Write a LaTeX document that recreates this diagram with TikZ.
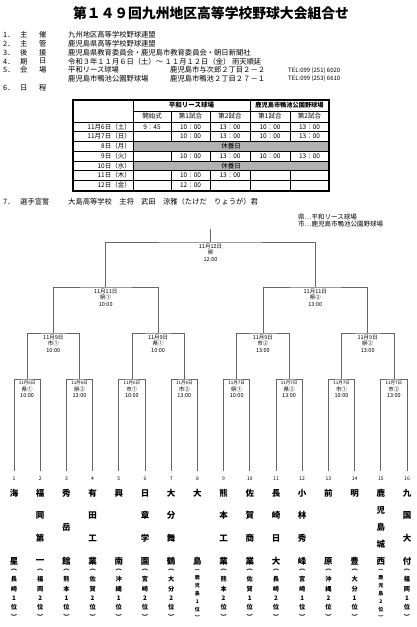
\documentclass[tikz,border=0pt]{standalone}
\usepackage{fontspec}
\setmainfont{Noto Sans CJK JP}
\usetikzlibrary{calc}

\newcommand{\fsz}[1]{\fontsize{#1}{#1}\selectfont}

\tikzset{
  bracket/.style={draw=black!60, line width=0.8pt},
  grid/.style={draw=black, line width=0.4pt},
  info/.style={anchor=west, inner sep=0pt, font=\fsz{7.3}},
  cell/.style={inner sep=0pt, font=\fsz{6.5}},
  mlab/.style={anchor=north, inner sep=0pt, align=center, font=\fontsize{5.5}{6.8}\selectfont},
  numlab/.style={inner sep=0pt, font=\fsz{5}},
  tname/.style={inner sep=0pt, font=\bfseries\fsz{8.5}},
}

\begin{document}
\begin{tikzpicture}[x=1pt, y=-1pt]
    \useasboundingbox (0,0) rectangle (417,627);
    % Title
    \node[font=\bfseries\fsz{13.8}] (title) at (211,13) {第１４９回九州地区高等学校野球大会組合せ};
    % Outline
    \foreach \nb/\ka/\kb/\txt [count=\k] in {1/主/催/九州地区高等学校野球連盟,
        2/主/管/鹿児島県高等学校野球連盟,
        3/後/援/鹿児島県教育委員会・鹿児島市教育委員会・朝日新聞社,
        4/期/日/{令和３年１１月６日（土）～ １１月１２日（金） 雨天順延},
        5/会/場/平和リース球場} {
        \pgfmathsetmacro\yy{35+8.8*(\k-1)}
        \node[info] (nb\k) at (3,\yy) {\nb．};
        \node[info] (ka\k) at (20,\yy) {\ka};
        \node[info] (kb\k) at (39,\yy) {\kb};
        \node[info] (tx\k) at (68,\yy) {\txt};
    }
    \node[info] (ad1) at (170,70.2) {鹿児島市与次郎２丁目２－２};
    \node[info, font=\fsz{6}] (tel1) at (288,70.2) {TEL:099 (251) 6020};
    \node[info] (tx5b) at (68,79) {鹿児島市鴨池公園野球場};
    \node[info] (ad2) at (170,79) {鹿児島市鴨池２丁目２７－１};
    \node[info, font=\fsz{6}] (tel2) at (288,79) {TEL:099 (253) 6610};
    \node[info] (nb6) at (3,87.8) {6．};
    \node[info] (ka6) at (20,87.8) {日};
    \node[info] (kb6) at (39,87.8) {程};
    % Schedule table
    \fill[black!30] (133,141) rectangle (329,151);
    \fill[black!30] (133,161) rectangle (329,170.5);
    \draw[grid] (133,111) -- (329,111);
    \foreach \y in {131.5,141,151,161,170.5,180}
        \draw[grid] (73,\y) -- (329,\y);
    \draw[grid, line width=0.8pt] (73,122) -- (329,122);
    \foreach \x in {171,210,290}
        \draw[grid] (\x,111) -- (\x,141) (\x,151) -- (\x,161) (\x,170.5) -- (\x,191);
    \draw[grid, line width=0.6pt] (250,100) -- (250,141) (250,151) -- (250,161) (250,170.5) -- (250,191);
    \draw[grid, line width=0.8pt] (133,100) -- (133,191);
    \draw[grid, line width=1.2pt] (73,100) rectangle (329,191);
    \node[cell, font=\bfseries\fsz{6.5}] (hh) at (191.5,105.5) {平和リース球場};
    \node[cell, font=\bfseries\fsz{6.2}] (hk) at (289.5,105.5) {鹿児島市鴨池公園野球場};
    \foreach \hx/\hd [count=\k] in {152/開始式, 190.5/第1試合, 230/第2試合, 270/第1試合, 309.5/第2試合}
        \node[cell] (h\k) at (\hx,116.5) {\hd};
    \foreach \yy/\lab/\ca/\cb/\cc/\cd/\ce [count=\k] in {
        126.8/11月6日（土）/9：45/10：00/13：00/10：00/13：00,
        136.3/11月7日（日）//10：00/13：00/10：00/13：00,
        146/8日（月）/////,
        156/9日（火）//10：00/13：00/10：00/13：00,
        165.8/10日（水）/////,
        175.3/11日（木）//10：00/13：00//,
        185.5/12日（金）//12：00///} {
        \node[cell, anchor=east] (d\k) at (131,\yy) {\lab};
        \node[cell] (ca\k) at (152,\yy) {\ca};
        \node[cell] (cb\k) at (190.5,\yy) {\cb};
        \node[cell] (cc\k) at (230,\yy) {\cc};
        \node[cell] (cd\k) at (270,\yy) {\cd};
        \node[cell] (ce\k) at (309.5,\yy) {\ce};
    }
    \node[cell] (rest1) at (231,146) {休養日};
    \node[cell] (rest2) at (231,165.8) {休養日};
    % Oath
    \node[info] (nb7) at (3,202) {7．};
    \node[info] (ka7) at (20,202) {選手宣誓};
    \node[info] (tx7) at (68,202) {大島高等学校　主将　武田　涼雅（たけだ　りょうが）君};
    % Legend
    \node[info, font=\fsz{6.5}] (legk) at (298,217) {県…平和リース球場};
    \node[info, font=\fsz{6.5}] (legs) at (298,224.5) {市…鹿児島市鴨池公園野球場};
    % Teams
    \foreach \n/\nm/\m/\pf [count=\i] in {
        2/{海,星}/6/{︵,長,崎,1,位,︶},
        4/{福,岡,第,一}/6/{︵,福,岡,2,位,︶},
        3/{秀,岳,館}/6/{︵,熊,本,1,位,︶},
        4/{有,田,工,業}/6/{︵,佐,賀,2,位,︶},
        2/{興,南}/6/{︵,沖,縄,1,位,︶},
        4/{日,章,学,園}/6/{︵,宮,崎,2,位,︶},
        4/{大,分,舞,鶴}/6/{︵,大,分,2,位,︶},
        2/{大,島}/7/{︵,鹿,児,島,1,位,︶},
        4/{熊,本,工,業}/6/{︵,熊,本,2,位,︶},
        4/{佐,賀,商,業}/6/{︵,佐,賀,1,位,︶},
        4/{長,崎,日,大}/6/{︵,長,崎,2,位,︶},
        4/{小,林,秀,峰}/6/{︵,宮,崎,1,位,︶},
        2/{前,原}/6/{︵,沖,縄,2,位,︶},
        2/{明,豊}/6/{︵,大,分,1,位,︶},
        5/{鹿,児,島,城,西}/7/{︵,鹿,児,島,2,位,︶},
        4/{九,国,大,付}/6/{︵,福,岡,1,位,︶}} {
        \pgfmathsetmacro\tx{14+(\i-1)*26.2}
        \coordinate (p\i) at (\tx,471);
        \node[numlab] (num\i) at (\tx,479) {\i};
        \foreach \ch [count=\j] in \nm
            \node[tname] (tn\i-\j) at (\tx,{493+(\j-1)*68/(\n-1)}) {\ch};
        \pgfmathsetmacro\pfs{\m==7 ? 5 : 6.2}
        \foreach \ch [count=\j] in \pf
            \node[inner sep=0pt, font=\bfseries\fsz{\pfs}] (pf\i-\j) at (\tx,{570+(\j-1)*47/(\m-1)}) {\ch};
    }
    % First round
    \foreach \dy/\vn/\tm [count=\k] in {6/県①/10:00, 6/県②/13:00, 6/市①/10:00, 6/市②/13:00,
        7/県①/10:00, 7/県②/13:00, 7/市①/10:00, 7/市②/13:00} {
        \pgfmathtruncatemacro\ia{2*\k-1}
        \pgfmathtruncatemacro\ib{2*\k}
        \coordinate (r\k) at ($(p\ia)!.5!(p\ib)+(0,-92)$);
        \draw[bracket] (p\ia) |- (r\k) -| (p\ib);
        \node[mlab] (rl\k) at ($(r\k)+(0,1.5)$) {{\fsz{4.5}11月\dy 日}\\\vn\\\tm};
    }
    % Quarter-finals
    \foreach \vn/\tm [count=\k] in {市①/10:00, 県①/10:00, 市②/13:00, 県②/13:00} {
        \pgfmathtruncatemacro\ia{2*\k-1}
        \pgfmathtruncatemacro\ib{2*\k}
        \coordinate (q\k) at ($(r\ia)!.5!(r\ib)+(0,-46)$);
        \draw[bracket] (r\ia) |- (q\k) -| (r\ib);
        \node[mlab] (ql\k) at ($(q\k)+(0,1.5)$) {11月9日\\\vn\\\tm};
    }
    % Semi-finals
    \foreach \vn/\tm [count=\k] in {県①/10:00, 県②/13:00} {
        \pgfmathtruncatemacro\ia{2*\k-1}
        \pgfmathtruncatemacro\ib{2*\k}
        \coordinate (s\k) at ($(q\ia)!.5!(q\ib)+(0,-46)$);
        \draw[bracket] (q\ia) |- (s\k) -| (q\ib);
        \node[mlab] (sl\k) at ($(s\k)+(0,1.5)$) {11月11日\\\vn\\\tm};
    }
    % Final
    \coordinate (f) at ($(s1)!.5!(s2)+(0,-45)$);
    \coordinate (top) at ($(f)+(0,-13)$);
    \draw[bracket] (s1) |- (f) -| (s2);
    \draw[bracket] (f) -- (top);
    \node[mlab] (fl) at ($(f)+(0,1.5)$) {11月12日\\県\\12:00};
\end{tikzpicture}
\end{document}
